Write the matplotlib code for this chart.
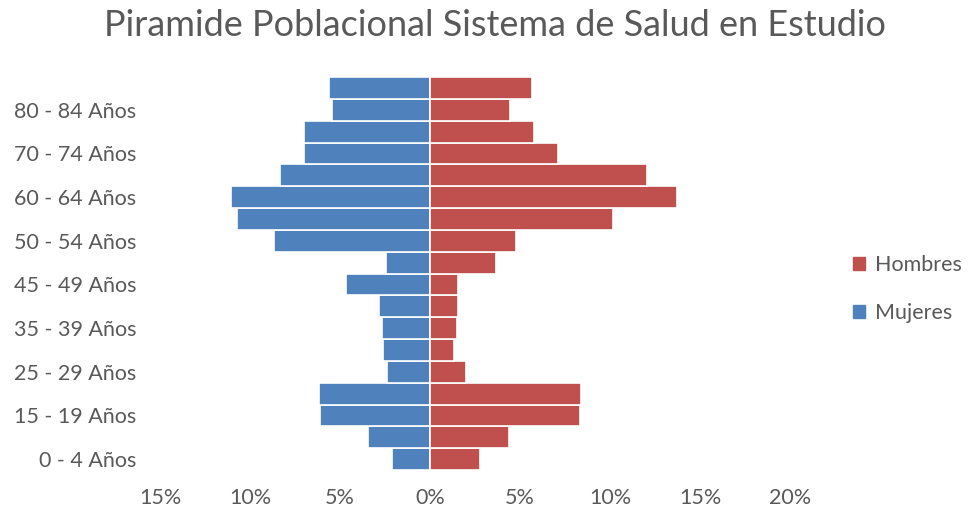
import numpy as np
import matplotlib.pyplot as plt
from matplotlib.patches import Patch
from matplotlib.ticker import FuncFormatter

plt.rcParams['font.family'] = ['Lato', 'DejaVu Sans']

# grupos de edad, de abajo hacia arriba (solo se rotulan uno si y otro no)
grupos = ['0 - 4 Años', '5 - 9 Años', '15 - 19 Años', '10 - 14 Años',
          '25 - 29 Años', '20 - 24 Años', '35 - 39 Años', '30 - 34 Años',
          '45 - 49 Años', '40 - 44 Años', '50 - 54 Años', '55 - 59 Años',
          '60 - 64 Años', '65 - 69 Años', '70 - 74 Años', '75 - 79 Años',
          '80 - 84 Años', '85 y más']
mujeres = [2.10, 3.43, 6.12, 6.18, 2.40, 2.62, 2.69, 2.82, 4.69,
           2.47, 8.64, 10.71, 11.08, 8.35, 7.01, 7.01, 5.46, 5.60]
hombres = [2.76, 4.39, 8.33, 8.41, 2.02, 1.35, 1.50, 1.57, 1.57,
           3.67, 4.78, 10.18, 13.74, 12.06, 7.13, 5.79, 4.46, 5.67]
ticks_x = [-15, -10, -5, 0, 5, 10, 15, 20]

azul = '#4F81BD'
rojo = '#C0504D'
gris = '#595959'

fig = plt.figure(figsize=(9.69, 5.08), dpi=100)
ax = fig.add_axes([160 / 969, 1 - 470 / 508, 630 / 969, 393 / 508])

y = np.arange(len(grupos))
ax.barh(y, [-v for v in mujeres], height=1.0, color=azul,
        edgecolor='white', linewidth=1.2)
ax.barh(y, hombres, height=1.0, color=rojo,
        edgecolor='white', linewidth=1.2)

ax.set_xlim(-15, 20)
ax.set_ylim(-0.5, len(grupos) - 0.5)
ax.set_xticks(ticks_x)
ax.xaxis.set_major_formatter(FuncFormatter(lambda v, p: f'{abs(v):.0f}%'))
ax.set_yticks(y[:-1:2])
ax.set_yticklabels(grupos[:-1:2])
ax.tick_params(axis='both', length=0, labelsize=15.5, labelcolor=gris)
ax.tick_params(axis='y', pad=17)
ax.tick_params(axis='x', pad=13)
for s in ax.spines.values():
    s.set_visible(False)

fig.text(495 / 969, 1 - 25 / 508, 'Piramide Poblacional Sistema de Salud en Estudio',
         ha='center', va='center', fontsize=26, color=gris)

handles = [Patch(color=rojo, label='Hombres'), Patch(color=azul, label='Mujeres')]
fig.legend(handles=handles, loc='center left', bbox_to_anchor=(834 / 969, 1 - 289 / 508),
           frameon=False, fontsize=15.5, labelcolor=gris, handlelength=0.55,
           handleheight=0.55, handletextpad=0.45, labelspacing=1.3)

fig.savefig('out.png', dpi=100)
